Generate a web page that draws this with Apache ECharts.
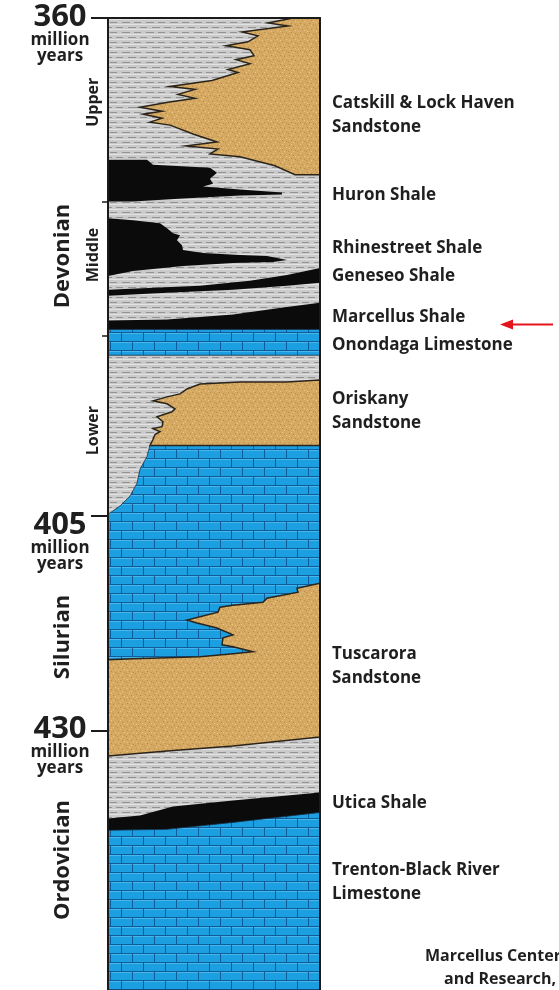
<!DOCTYPE html>
<html>
<head>
<meta charset="utf-8">
<script src="https://cdn.jsdelivr.net/npm/echarts@6/dist/echarts.min.js"></script>
<style>
  html, body { margin: 0; padding: 0; background: #fff; }
  #chart { width: 559px; height: 990px; }
</style>
</head>
<body>
<div id="chart"></div>
<script>
// lateral distance across the column 0-212, depth 0-980 (top = 360 Ma)
const columnWidth = 212
const columnDepth = 980

// left axis
const ageLabels = ['360', '405', '430']
const ageTickDepth = [0, 502, 719]
const ageLabelDepth = [-1, 511, 717]
const epochTickDepth = [185, 320]
const epochNames = ['Upper', 'Middle', 'Lower']
const epochLabelDepth = [85, 239, 416]
const periodNames = ['Devonian', 'Silurian', 'Ordovician']
const periodLabelDepth = [240, 624, 849]

// right side names
const formationNames = [
  'Catskill & Lock Haven\nSandstone', 'Huron Shale', 'Rhinestreet Shale', 'Geneseo Shale',
  'Marcellus Shale', 'Onondaga Limestone', 'Oriskany\nSandstone', 'Tuscarora\nSandstone',
  'Utica Shale', 'Trenton-Black River\nLimestone'
]
const formationLabelDepth = [86, 179, 232, 260, 302, 330, 384, 641, 792, 859]
const highlightedFormation = 'Marcellus Shale'
const creditLines = ['Marcellus Center', 'and Research,']

// rock bodies, outline points [distance, depth]
const shaleBackground = [[0, 0], [212, 0], [212, 980], [0, 980]]
const catskillSandstone = [[185, 0], [160, 5], [180, 8], [134, 14], [150, 18], [140, 24], [118, 28], [142, 32],
  [146, 38], [128, 42], [142, 46], [120, 52], [130, 55], [104, 63], [62, 69], [87, 72], [70, 77], [87, 81],
  [60, 85], [32, 90], [54, 94], [35, 97], [54, 101], [42, 105], [62, 108], [85, 117], [109, 125], [78, 129],
  [110, 132], [102, 137], [132, 140], [167, 149], [187, 158], [212, 158], [212, 0]]
const huronShale = [[0, 143], [39, 143], [45, 148], [102, 151], [109, 156], [102, 162], [105, 167], [95, 170],
  [132, 173], [174, 176], [174, 178], [132, 179], [75, 182], [25, 185], [0, 185]]
const rhinestreetShale = [[0, 202], [25, 204], [52, 207], [59, 212], [65, 217], [72, 219], [69, 224], [74, 229],
  [75, 234], [95, 237], [132, 239], [159, 240], [179, 244], [165, 246], [125, 247], [75, 250], [25, 255], [0, 260]]
const geneseoShale = [[0, 274], [92, 270], [142, 265], [179, 259], [212, 252], [212, 267], [179, 270], [125, 274],
  [59, 277], [0, 280]]
const marcellusShale = [[0, 305], [59, 304], [125, 299], [175, 292], [212, 287], [212, 315], [0, 315]]
const onondagaLimestone = [[0, 314], [212, 314], [212, 340], [0, 340]]
const oriskanySandstone = [[212, 365], [179, 367], [132, 367], [92, 369], [79, 374], [72, 379], [59, 382], [45, 386],
  [59, 389], [67, 394], [64, 397], [49, 402], [55, 407], [54, 412], [45, 414], [52, 417], [47, 420], [45, 425],
  [42, 431], [212, 431]]
const lowerLimestone = [[42, 431], [212, 431], [212, 682], [0, 682], [0, 500], [2, 499], [12, 492], [22, 482],
  [29, 469], [32, 455], [39, 442]]
const tuscaroraSandstone = [[212, 570], [189, 575], [190, 579], [159, 585], [155, 589], [125, 592], [112, 594],
  [110, 599], [79, 607], [89, 610], [109, 615], [125, 622], [115, 625], [114, 632], [125, 634], [145, 639],
  [125, 641], [92, 644], [25, 646], [0, 647], [0, 744], [59, 739], [125, 734], [212, 725]]
const uticaShale = [[0, 807], [32, 804], [65, 795], [125, 789], [212, 781], [212, 802], [125, 812], [59, 819], [0, 820]]
const trentonLimestone = [[0, 819], [59, 818], [125, 811], [212, 801], [212, 980], [0, 980]]

const FONT = '"Open Sans", "Noto Sans", sans-serif'
const TEXT_COLOR = '#1f1f1f'

// textures
function makePattern(w, h, draw) {
  let c = document.createElement('canvas')
  c.width = w
  c.height = h
  draw(c.getContext('2d'))
  return { image: c, repeat: 'repeat' }
}
const shalePattern = makePattern(24, 10, ctx => {
  ctx.fillStyle = '#cacaca'
  ctx.fillRect(0, 0, 24, 10)
  ctx.fillStyle = '#e2e2e2'
  ctx.fillRect(0, 4, 24, 1)
  ctx.fillRect(0, 9, 24, 1)
  ctx.fillStyle = '#939393'
  ctx.fillRect(2, 2, 8, 1)
  ctx.fillRect(14, 2, 7, 1)
  ctx.fillRect(8, 7, 8, 1)
  ctx.fillRect(20, 7, 4, 1)
  ctx.fillRect(0, 7, 3, 1)
})
const limePattern = makePattern(22, 18, ctx => {
  ctx.fillStyle = '#1c9fe0'
  ctx.fillRect(0, 0, 22, 18)
  ctx.fillStyle = '#48b6ea'
  ctx.fillRect(1, 0, 21, 1)
  ctx.fillRect(0, 9, 22, 1)
  ctx.fillStyle = '#0f5c9a'
  ctx.fillRect(0, 8, 22, 1)
  ctx.fillRect(0, 17, 22, 1)
  ctx.fillRect(0, 0, 1, 8)
  ctx.fillRect(11, 9, 1, 8)
})
const sandPattern = makePattern(9, 9, ctx => {
  ctx.fillStyle = '#d6a963'
  ctx.fillRect(0, 0, 9, 9)
  ctx.fillStyle = '#b98d47'
  ;[[1, 1], [5, 2], [3, 5], [7, 6], [0, 7]].forEach(p => ctx.fillRect(p[0], p[1], 1, 1))
  ctx.fillStyle = '#e9c78b'
  ;[[3, 0], [7, 3], [1, 4], [5, 7]].forEach(p => ctx.fillRect(p[0], p[1], 1, 1))
})

// one custom series per lithology
function rockSeries(name, bodies, fill, stroke, lineWidth, z) {
  return {
    type: 'custom',
    name: name,
    z: z,
    clip: true,
    silent: true,
    data: bodies.map((b, i) => [b[0][0], b[0][1], i]),
    renderItem: (params, api) => {
      let points = bodies[api.value(2)].map(p => api.coord(p))
      return {
        type: 'polygon',
        shape: { points: points },
        style: { fill: fill, stroke: stroke, lineWidth: lineWidth }
      }
    }
  }
}

function text(x, y, str, font, opts) {
  return Object.assign({
    type: 'text', x: x, y: y,
    style: { text: str, font: font, fill: TEXT_COLOR, align: 'center', verticalAlign: 'middle' }
  }, opts || {})
}

let chart = echarts.init(document.getElementById('chart'))

let option = {
  backgroundColor: '#fff',
  animation: false,
  grid: { left: 108, top: 18, width: 212, height: columnDepth },
  xAxis: {
    type: 'value', min: 0, max: columnWidth, position: 'top', z: 10,
    axisLine: { show: true, lineStyle: { color: '#1a1a1a', width: 2 } },
    axisTick: { show: false }, axisLabel: { show: false }, splitLine: { show: false }
  },
  yAxis: [{
    type: 'value', min: 0, max: columnDepth, inverse: true, position: 'left', z: 10,
    axisLine: { show: true, lineStyle: { color: '#1a1a1a', width: 2 } },
    axisTick: { show: true, customValues: ageTickDepth, length: 17, lineStyle: { color: '#1a1a1a', width: 2 } },
    axisLabel: { show: false }, splitLine: { show: false }
  }, {
    type: 'value', min: 0, max: columnDepth, inverse: true, position: 'left', z: 10,
    axisLine: { show: false },
    axisTick: { show: true, customValues: epochTickDepth, length: 6, lineStyle: { color: '#1a1a1a', width: 1.5 } },
    axisLabel: { show: false }, splitLine: { show: false }
  }, {
    type: 'value', min: 0, max: columnDepth, inverse: true, position: 'right', z: 10,
    axisLine: { show: true, lineStyle: { color: '#1a1a1a', width: 2 } },
    axisTick: { show: false }, axisLabel: { show: false }, splitLine: { show: false }
  }],
  series: [
    rockSeries('Shale', [shaleBackground], shalePattern, null, 0, 1),
    rockSeries('Black shale', [huronShale, rhinestreetShale, geneseoShale, marcellusShale, uticaShale],
      '#0b0b0b', null, 0, 2),
    rockSeries('Limestone', [onondagaLimestone, lowerLimestone, trentonLimestone], limePattern, '#17324c', 0.8, 2),
    rockSeries('Sandstone', [catskillSandstone, oriskanySandstone, tuscaroraSandstone], sandPattern, '#2a241a', 1.5, 3),
    {
      // age ticks labels
      type: 'custom', z: 5, clip: false, silent: true,
      data: ageLabels.map((t, i) => [0, ageLabelDepth[i], i]),
      renderItem: (params, api) => {
        let p = api.coord([0, api.value(1)])
        let cx = p[0] - 48
        return {
          type: 'group',
          children: [
            text(cx, p[1], ageLabels[api.value(2)], 'bold 31px ' + FONT),
            text(cx, p[1] + 23, 'million', 'bold 17px ' + FONT),
            text(cx, p[1] + 39, 'years', 'bold 17px ' + FONT)
          ]
        }
      }
    },
    {
      // periods
      type: 'custom', z: 5, clip: false, silent: true,
      data: periodNames.map((t, i) => [0, periodLabelDepth[i], i]),
      renderItem: (params, api) => {
        let p = api.coord([0, api.value(1)])
        return text(p[0] - 45, p[1], periodNames[api.value(2)], 'bold 22px ' + FONT, { rotation: Math.PI / 2 })
      }
    },
    {
      // epochs
      type: 'custom', z: 5, clip: false, silent: true,
      data: epochNames.map((t, i) => [0, epochLabelDepth[i], i]),
      renderItem: (params, api) => {
        let p = api.coord([0, api.value(1)])
        return text(p[0] - 15, p[1], epochNames[api.value(2)], 'bold 16px ' + FONT, { rotation: Math.PI / 2 })
      }
    },
    {
      // formation names
      type: 'custom', z: 5, clip: false, silent: true,
      data: formationNames.map((t, i) => [columnWidth, formationLabelDepth[i], i]),
      renderItem: (params, api) => {
        let name = formationNames[api.value(2)]
        let p = api.coord([columnWidth, api.value(1)])
        let x = p[0] + 12
        let children = name.split('\n').map((line, k) => text(x, p[1] + k * 24, line, 'bold 17px ' + FONT, {
          style: { text: line, font: 'bold 17px ' + FONT, fill: TEXT_COLOR, align: 'left', verticalAlign: 'middle' }
        }))
        if (name === highlightedFormation) {
          let ay = p[1] + 7
          children.push({
            type: 'line', shape: { x1: 510, y1: ay, x2: 553, y2: ay },
            style: { stroke: '#e3141b', lineWidth: 2 }
          })
          children.push({
            type: 'polygon', shape: { points: [[500, ay], [513, ay - 5], [513, ay + 5]] },
            style: { fill: '#e3141b' }
          })
        }
        return { type: 'group', children: children }
      }
    }
  ],
  graphic: creditLines.map((line, i) => ({
    type: 'text', left: i === 0 ? 425 : 444, top: 948 + i * 23,
    style: { text: line, font: 'bold 16px ' + FONT, fill: TEXT_COLOR }
  }))
}

chart.setOption(option)
window.addEventListener('resize', () => {
  chart.resize()
})
</script>
</body>
</html>
